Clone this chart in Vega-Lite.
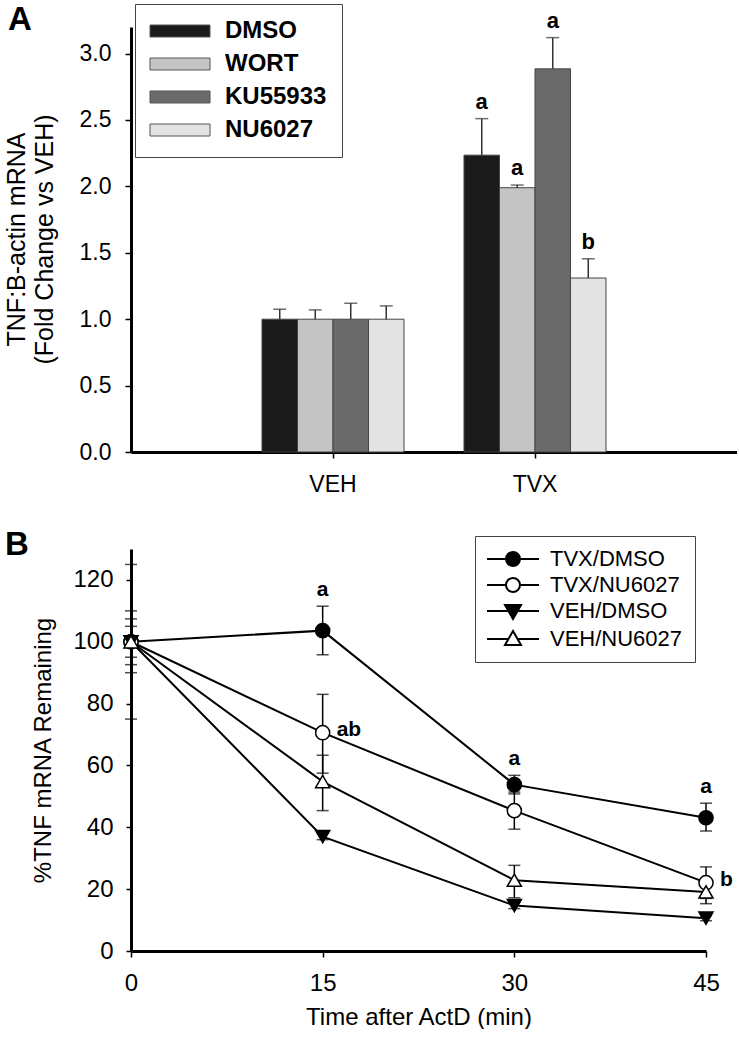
{
  "$schema": "https://vega.github.io/schema/vega-lite/v6.json",
  "background": "white",
  "padding": {"left": 4, "top": 3, "right": 0, "bottom": 0},
  "bounds": "flush",
  "spacing": 97,
  "resolve": {"scale": {"fill": "independent", "shape": "independent", "stroke": "independent"}, "legend": {"fill": "independent", "shape": "independent", "stroke": "independent"}},
  "config": {
    "font": "Liberation Sans",
    "view": {"stroke": null},
    "axis": {"grid": false, "domainColor": "black", "tickColor": "black", "labelColor": "black", "titleColor": "black", "labelFont": "Liberation Sans", "titleFont": "Liberation Sans", "titleFontWeight": "normal", "labelFlush": false}
  },
  "datasets": {
    "bars": [
      {"group": "VEH", "treatment": "DMSO", "value": 1.0, "hi": 1.075, "sig": ""},
      {"group": "VEH", "treatment": "WORT", "value": 1.0, "hi": 1.07, "sig": ""},
      {"group": "VEH", "treatment": "KU55933", "value": 1.0, "hi": 1.12, "sig": ""},
      {"group": "VEH", "treatment": "NU6027", "value": 1.0, "hi": 1.10, "sig": ""},
      {"group": "TVX", "treatment": "DMSO", "value": 2.235, "hi": 2.51, "sig": "a"},
      {"group": "TVX", "treatment": "WORT", "value": 1.99, "hi": 2.01, "sig": "a"},
      {"group": "TVX", "treatment": "KU55933", "value": 2.885, "hi": 3.12, "sig": "a"},
      {"group": "TVX", "treatment": "NU6027", "value": 1.31, "hi": 1.455, "sig": "b"}
    ],
    "decay": [
      {"series": "TVX/DMSO", "time": 0, "mean": 100, "lo": 90, "hi": 110},
      {"series": "TVX/DMSO", "time": 15, "mean": 103.6, "lo": 95.8, "hi": 111.5},
      {"series": "TVX/DMSO", "time": 30, "mean": 53.8, "lo": 50.8, "hi": 56.8},
      {"series": "TVX/DMSO", "time": 45, "mean": 43.1, "lo": 38.8, "hi": 47.8},
      {"series": "TVX/NU6027", "time": 0, "mean": 100, "lo": 75, "hi": 125},
      {"series": "TVX/NU6027", "time": 15, "mean": 70.6, "lo": 57.5, "hi": 83.0},
      {"series": "TVX/NU6027", "time": 30, "mean": 45.4, "lo": 39.4, "hi": 51.4},
      {"series": "TVX/NU6027", "time": 45, "mean": 22.1, "lo": 17.0, "hi": 27.2},
      {"series": "VEH/DMSO", "time": 0, "mean": 100, "lo": 95, "hi": 105},
      {"series": "VEH/DMSO", "time": 15, "mean": 37.0, "lo": 36.0, "hi": 38.0},
      {"series": "VEH/DMSO", "time": 30, "mean": 14.7, "lo": 13.7, "hi": 15.7},
      {"series": "VEH/DMSO", "time": 45, "mean": 10.6, "lo": 9.8, "hi": 11.4},
      {"series": "VEH/NU6027", "time": 0, "mean": 100, "lo": 92.6, "hi": 107.4},
      {"series": "VEH/NU6027", "time": 15, "mean": 54.8, "lo": 45.4, "hi": 63.3},
      {"series": "VEH/NU6027", "time": 30, "mean": 22.9, "lo": 17.2, "hi": 27.7},
      {"series": "VEH/NU6027", "time": 45, "mean": 19.1, "lo": 15.3, "hi": 21.5}
    ],
    "decaySig": [
      {"time": 15, "y": 111.5, "label": "a", "pos": "above"},
      {"time": 30, "y": 56.8, "label": "a", "pos": "above"},
      {"time": 45, "y": 47.8, "label": "a", "pos": "above"},
      {"time": 15, "y": 70.6, "label": "ab", "pos": "right"},
      {"time": 45, "y": 22.1, "label": "b", "pos": "right"}
    ]
  },
  "vconcat": [
    {
      "width": 606,
      "height": 425,
      "title": {"text": "A", "anchor": "start", "frame": "group", "dx": -123, "offset": -33, "fontSize": 33, "fontWeight": "bold", "color": "black", "font": "Liberation Sans"},
      "data": {"name": "bars"},
      "encoding": {
        "x": {"field": "group", "type": "nominal", "sort": ["VEH", "TVX"], "scale": {"paddingInner": 0, "paddingOuter": 0.5},
          "axis": {"title": null, "labelAngle": 0, "labelFontSize": 23, "labelPadding": 15, "tickSize": 6, "tickWidth": 1.5, "domainWidth": 3}},
        "xOffset": {"field": "treatment", "type": "nominal", "sort": ["DMSO", "WORT", "KU55933", "NU6027"], "scale": {"paddingInner": 0, "paddingOuter": 0.845}}
      },
      "layer": [
        {
          "mark": {"type": "bar", "stroke": "#444444", "strokeWidth": 1},
          "encoding": {
            "y": {"field": "value", "type": "quantitative", "scale": {"domain": [0, 3.2], "nice": false},
              "axis": {"title": ["TNF:B-actin mRNA", "(Fold Change vs VEH)"], "values": [0, 0.5, 1, 1.5, 2, 2.5, 3], "format": ".1f", "labelFontSize": 23, "labelPadding": 14, "tickSize": 6, "tickWidth": 1.5, "domainWidth": 3, "titleFontSize": 25, "titleLineHeight": 28, "titleX": -102, "titleY": 212, "titleBaseline": "bottom"}},
            "fill": {"field": "treatment", "type": "nominal",
              "scale": {"domain": ["DMSO", "WORT", "KU55933", "NU6027"], "range": ["#1a1a1a", "#c4c4c4", "#6a6a6a", "#e3e3e3"]},
              "legend": {"orient": "none", "legendX": 4, "legendY": -23, "title": null, "symbolType": "M-3,-0.6H3V0.6H-3Z", "symbolSize": 400, "symbolOffset": 18, "symbolStrokeColor": "#555555", "symbolStrokeWidth": 1, "symbolOpacity": 1, "labelFontSize": 24, "labelFontWeight": "bold", "labelFont": "Liberation Sans", "labelColor": "black", "labelOffset": 33, "rowPadding": 9, "padding": 15, "strokeColor": "#444444", "fillColor": "white"}}
          }
        },
        {
          "mark": {"type": "rule", "color": "#333333", "strokeWidth": 1.5},
          "encoding": {"y": {"field": "value", "type": "quantitative"}, "y2": {"field": "hi"}}
        },
        {
          "mark": {"type": "tick", "color": "#333333", "thickness": 1.5, "size": 13, "orient": "horizontal"},
          "encoding": {"y": {"field": "hi", "type": "quantitative"}}
        },
        {
          "mark": {"type": "text", "fontWeight": "bold", "fontSize": 22, "dy": -10, "baseline": "alphabetic", "color": "black", "font": "Liberation Sans"},
          "encoding": {"y": {"field": "hi", "type": "quantitative"}, "text": {"field": "sig"}}
        }
      ]
    },
    {
      "width": 575,
      "height": 402,
      "title": {"text": "B", "anchor": "start", "frame": "group", "dx": -126, "offset": -26, "fontSize": 33, "fontWeight": "bold", "color": "black", "font": "Liberation Sans"},
      "resolve": {"scale": {"fill": "independent", "shape": "independent", "stroke": "independent"}, "legend": {"fill": "independent", "shape": "independent", "stroke": "independent"}},
      "layer": [
        {
          "data": {"name": "decay"},
          "mark": {"type": "line", "color": "black", "strokeWidth": 2},
          "encoding": {
            "x": {"field": "time", "type": "quantitative", "scale": {"domain": [0, 45], "nice": false},
              "axis": {"title": "Time after ActD (min)", "values": [0, 15, 30, 45], "labelFontSize": 24, "labelPadding": 14, "tickSize": 6, "tickWidth": 1.5, "domainWidth": 3, "titleFontSize": 24, "titlePadding": 10}},
            "y": {"field": "mean", "type": "quantitative", "scale": {"domain": [0, 130], "nice": false},
              "axis": {"title": "%TNF mRNA Remaining", "values": [0, 20, 40, 60, 80, 100, 120], "labelFontSize": 24, "labelPadding": 13, "tickSize": 5, "tickWidth": 1.5, "domainWidth": 3, "titleFontSize": 24, "titleX": -76, "titleY": 201, "titleBaseline": "bottom"}},
            "detail": {"field": "series"}
          }
        },
        {
          "data": {"name": "decay"},
          "mark": {"type": "rule", "color": "black", "strokeWidth": 1.5},
          "encoding": {"x": {"field": "time", "type": "quantitative"}, "y": {"field": "lo", "type": "quantitative"}, "y2": {"field": "hi"}}
        },
        {
          "data": {"name": "decay"},
          "mark": {"type": "tick", "color": "black", "thickness": 1.5, "size": 12, "orient": "horizontal"},
          "encoding": {"x": {"field": "time", "type": "quantitative"}, "y": {"field": "lo", "type": "quantitative"}}
        },
        {
          "data": {"name": "decay"},
          "mark": {"type": "tick", "color": "black", "thickness": 1.5, "size": 12, "orient": "horizontal"},
          "encoding": {"x": {"field": "time", "type": "quantitative"}, "y": {"field": "hi", "type": "quantitative"}}
        },
        {
          "data": {"name": "decay"},
          "mark": {"type": "point", "filled": true, "stroke": "black", "strokeWidth": 1.5, "size": 200, "opacity": 1},
          "encoding": {
            "x": {"field": "time", "type": "quantitative"},
            "y": {"field": "mean", "type": "quantitative"},
            "shape": {"field": "series", "type": "nominal",
              "scale": {"domain": ["TVX/DMSO", "TVX/NU6027", "VEH/DMSO", "VEH/NU6027"], "range": ["circle", "circle", "triangle-down", "triangle-up"]},
              "legend": null},
            "fill": {"field": "series", "type": "nominal",
              "scale": {"domain": ["TVX/DMSO", "TVX/NU6027", "VEH/DMSO", "VEH/NU6027"], "range": ["black", "white", "black", "white"]},
              "legend": null}
          }
        },
        {
          "data": {"name": "decay"},
          "transform": [{"filter": "false"}],
          "mark": {"type": "point", "filled": true, "strokeWidth": 2, "size": 100, "opacity": 1},
          "encoding": {
            "x": {"field": "time", "type": "quantitative"},
            "y": {"field": "mean", "type": "quantitative"},
            "shape": {"field": "series", "type": "nominal",
              "scale": {"domain": ["TVX/DMSO", "TVX/NU6027", "VEH/DMSO", "VEH/NU6027"], "range": ["M-5.2,0H-1.4M1.4,0H5.2M-1.4,0A1.4,1.4 0 1,0 1.4,0A1.4,1.4 0 1,0 -1.4,0Z", "M-5.2,0H-1.4M1.4,0H5.2M-1.4,0A1.4,1.4 0 1,0 1.4,0A1.4,1.4 0 1,0 -1.4,0Z", "M-5.2,0H-0.9M0.9,0H5.2M-1.6,-1.2L1.6,-1.2L0,1.6Z", "M-5.2,0H-0.9M0.9,0H5.2M-1.6,1.2L1.6,1.2L0,-1.6Z"]},
              "legend": {"orient": "none", "legendX": 344, "legendY": -13, "title": null, "symbolSize": 100, "symbolOffset": 15, "symbolStrokeWidth": 2, "symbolOpacity": 1, "labelFontSize": 22, "labelFont": "Liberation Sans", "labelColor": "black", "labelOffset": 26, "rowPadding": 4, "padding": 12, "strokeColor": "#444444", "fillColor": "white"}},
            "fill": {"field": "series", "type": "nominal",
              "scale": {"domain": ["TVX/DMSO", "TVX/NU6027", "VEH/DMSO", "VEH/NU6027"], "range": ["black", "white", "black", "white"]},
              "legend": {"orient": "none", "legendX": 344, "legendY": -13, "title": null, "symbolSize": 100, "symbolOffset": 15, "symbolStrokeWidth": 2, "symbolOpacity": 1, "labelFontSize": 22, "labelFont": "Liberation Sans", "labelColor": "black", "labelOffset": 26, "rowPadding": 4, "padding": 12, "strokeColor": "#444444", "fillColor": "white"}},
            "stroke": {"field": "series", "type": "nominal",
              "scale": {"domain": ["TVX/DMSO", "TVX/NU6027", "VEH/DMSO", "VEH/NU6027"], "range": ["black", "black", "black", "black"]},
              "legend": {"orient": "none", "legendX": 344, "legendY": -13, "title": null, "symbolSize": 100, "symbolOffset": 15, "symbolStrokeWidth": 2, "symbolOpacity": 1, "labelFontSize": 22, "labelFont": "Liberation Sans", "labelColor": "black", "labelOffset": 26, "rowPadding": 4, "padding": 12, "strokeColor": "#444444", "fillColor": "white"}}
          }
        },
        {
          "data": {"name": "decaySig"},
          "transform": [{"filter": "datum.pos === 'above'"}],
          "mark": {"type": "text", "fontWeight": "bold", "fontSize": 21, "dy": -10, "baseline": "alphabetic", "color": "black", "font": "Liberation Sans"},
          "encoding": {"x": {"field": "time", "type": "quantitative"}, "y": {"field": "y", "type": "quantitative"}, "text": {"field": "label"}}
        },
        {
          "data": {"name": "decaySig"},
          "transform": [{"filter": "datum.pos === 'right'"}],
          "mark": {"type": "text", "fontWeight": "bold", "fontSize": 21, "dx": 14, "dy": -3, "align": "left", "baseline": "middle", "color": "black", "font": "Liberation Sans"},
          "encoding": {"x": {"field": "time", "type": "quantitative"}, "y": {"field": "y", "type": "quantitative"}, "text": {"field": "label"}}
        }
      ]
    }
  ]
}
